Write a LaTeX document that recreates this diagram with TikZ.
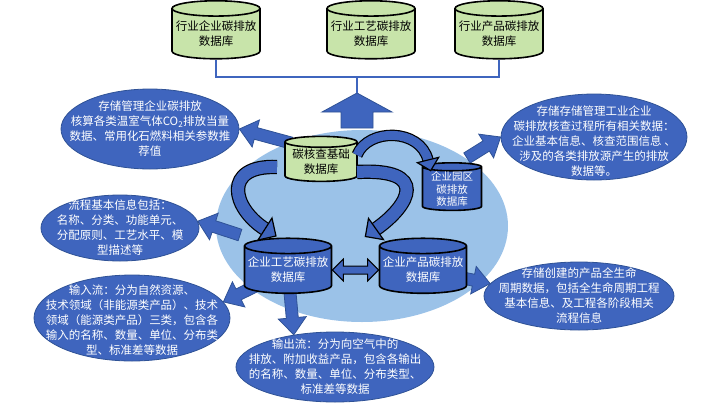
\documentclass[tikz,border=0pt]{standalone}
\usepackage{fontspec}
\newfontfamily\cjk{Noto Sans CJK SC}
\usetikzlibrary{shapes.geometric,calc}

\definecolor{poolblue}{RGB}{155,194,232}
\definecolor{boxblue}{RGB}{63,101,190}
\definecolor{edgeblue}{RGB}{47,82,150}
\definecolor{dbgreen}{RGB}{200,228,170}

\pgfdeclarelayer{back}
\pgfdeclarelayer{mid}
\pgfsetlayers{back,mid,main}

\tikzset{
  greendb/.style={cylinder, shape border rotate=90, aspect=0.19, draw=black, line width=1.6pt, fill=dbgreen, align=center, inner sep=0pt},
  bluedb/.style={cylinder, shape border rotate=90, aspect=0.19, draw=black, line width=1.6pt, fill=boxblue, text=white, align=center, inner sep=0pt},
  bubble/.style={ellipse, draw=edgeblue, line width=0.8pt, fill=boxblue, inner sep=0pt},
  bubbletext/.style={text=white, align=center, inner sep=0pt},
  blockarr/.style={fill=boxblue, draw=edgeblue, line width=0.8pt, line join=miter},
  bendband/.style={draw=black, line width=1.2pt, double=boxblue},
  bendhead/.style={fill=boxblue, draw=black, line width=1.2pt, line join=miter},
  bracketline/.style={draw=boxblue, line width=1.2pt},
}

% straight block arrow: from, to, shaft half width, head half width, head length
\newcommand{\blockarrow}[5]{%
  \coordinate (ba-h) at ($(#2)!#5!(#1)$);
  \filldraw[blockarr] ($(#1)!#3!90:(#2)$) -- ($(ba-h)!#3!-90:(#1)$) -- ($(ba-h)!#4!-90:(#1)$) -- (#2)
    -- ($(ba-h)!#4!90:(#1)$) -- ($(ba-h)!#3!90:(#1)$) -- ($(#1)!#3!-90:(#2)$) -- cycle;
}
% bent band arrow: from, control 1, control 2, head base, band width, head half width
\newcommand{\bendarrow}[6]{%
  \draw[bendband, double distance=#5] (#1) .. controls (#2) and (#3) .. (#4);
  \filldraw[bendhead] ($(#4)!#6!90:(#3)$) -- ($(#4)!-#6!(#3)$) -- ($(#4)!#6!-90:(#3)$) -- cycle;
}

\begin{document}
\begin{tikzpicture}[x=1pt, y=-1pt, font=\cjk\fontsize{11.5}{15}\selectfont]
    \useasboundingbox (0,0) rectangle (710,405);

    % Pool
    \begin{pgfonlayer}{back}
    \node[ellipse, fill=poolblue, minimum width=292pt, minimum height=192pt] (pool) at (362,226) {};
    \end{pgfonlayer}

    % Industry databases
    \node[greendb, minimum width=88pt, minimum height=58pt] (indent) at (216,34) {行业企业碳排放\\数据库};
    \node[greendb, minimum width=88pt, minimum height=58pt] (indproc) at (371,34) {行业工艺碳排放\\数据库};
    \node[greendb, minimum width=88pt, minimum height=58pt] (indprod) at (499,34) {行业产品碳排放\\数据库};

    % Bracket
    \coordinate (brk) at (357,77);
    \draw[bracketline] (indent.south) -- (indent.south |- brk) -- (indprod.south |- brk) -- (indprod.south);
    \draw[bracketline] (brk) -- ++(0,16) coordinate (brktip);

    % Enterprise databases
    \node[greendb, minimum width=72pt, minimum height=45pt] (base) at (321,162) {碳核查基础\\数据库};
    \node[bluedb, minimum width=59pt, minimum height=44pt, font=\cjk\fontsize{10.5}{12.5}\selectfont] (park) at (452,189) {企业园区\\碳排放\\数据库};
    \node[bluedb, minimum width=87pt, minimum height=55pt] (proc) at (288,270) {企业工艺碳排放\\数据库};
    \node[bluedb, minimum width=87pt, minimum height=55pt] (prod) at (423,270) {企业产品碳排放\\数据库};

    % Bubbles
    \node[bubble, minimum width=178pt, minimum height=80pt] (e1) at (150,129) {};
    \node[bubbletext] at (e1) {存储管理企业碳排放\\核算各类温室气体CO\textsubscript{2}排放当量\\数据、常用化石燃料相关参数推\\荐值};
    \node[bubble, minimum width=186pt, minimum height=86pt] (e2) at (594,137) {};
    \node[bubbletext] at ($(e2)+(0,4)$) {存储存储管理工业企业\\碳排放核查过程所有相关数据：\\企业基本信息、核查范围信息 、\\涉及的各类排放源产生的排放\\数据等。};
    \node[bubble, minimum width=158pt, minimum height=66pt] (e3) at (120,228) {};
    \node[bubbletext] at (e3) {流程基本信息包括：\\名称、分类、功能单元、\\分配原则、工艺水平、模\\型描述等};
    \node[bubble, minimum width=196pt, minimum height=86pt] (e4) at (132,318) {};
    \node[bubbletext] at ($(e4)+(0,2)$) {输入流：分为自然资源、\\技术领域（非能源类产品）、技术\\领域（能源类产品）三类，包含各\\输入的名称、数量、单位、分布类\\型、标准差等数据};
    \node[bubble, minimum width=198pt, minimum height=70pt] (e5) at (335,367) {};
    \node[bubbletext] at (e5) {输出流：分为向空气中的\\排放、附加收益产品，包含各输出\\的名称、数量、单位、分布类型、\\标准差等数据};
    \node[bubble, minimum width=190pt, minimum height=68pt] (e6) at (579,296) {};
    \node[bubbletext] at (e6) {存储创建的产品全生命\\周期数据，包括全生命周期工程\\基本信息、及工程各阶段相关\\流程信息};

    % Block arrows out to the bubbles
    \begin{pgfonlayer}{mid}
    \coordinate (upfoot) at (357,128);
    \blockarrow{upfoot}{brktip}{16pt}{35pt}{19pt}
    \coordinate (t1) at (291,143);
    \blockarrow{t1}{e1.east}{6pt}{14pt}{17pt}
    \coordinate (t2) at (467,158);
    \blockarrow{t2}{e2.west}{6pt}{14pt}{17pt}
    \coordinate (t3) at (240,235);
    \blockarrow{t3}{e3.5}{6pt}{14pt}{17pt}
    \blockarrow{proc.center}{e4.10}{6pt}{14pt}{17pt}
    \blockarrow{proc.center}{e5.142}{6pt}{14pt}{17pt}
    \blockarrow{prod.center}{e6.172}{6pt}{14pt}{17pt}
    \end{pgfonlayer}

    % Links between the enterprise databases
    \coordinate (bl) at (277,167);
    \coordinate (br) at (357,172);
    \coordinate (bt) at (357,155);
    \bendarrow{bl}{222,165}{232,208}{265,229}{12pt}{13pt}
    \bendarrow{br}{430,168}{410,205}{376,229}{12pt}{13pt}
    \bendarrow{bt}{368,128}{420,128}{428,160}{9pt}{11pt}

    \coordinate (ha) at ($(proc.east)!11pt!(prod.west)$);
    \coordinate (hb) at ($(prod.west)!11pt!(proc.east)$);
    \filldraw[bendhead, line width=1pt] (proc.east) -- ($(ha)!11pt!90:(prod.west)$) -- ($(ha)!4pt!90:(prod.west)$)
      -- ($(hb)!4pt!-90:(proc.east)$) -- ($(hb)!11pt!-90:(proc.east)$) -- (prod.west)
      -- ($(hb)!11pt!90:(proc.east)$) -- ($(hb)!4pt!90:(proc.east)$)
      -- ($(ha)!4pt!-90:(prod.west)$) -- ($(ha)!11pt!-90:(prod.west)$) -- cycle;
\end{tikzpicture}
\end{document}
